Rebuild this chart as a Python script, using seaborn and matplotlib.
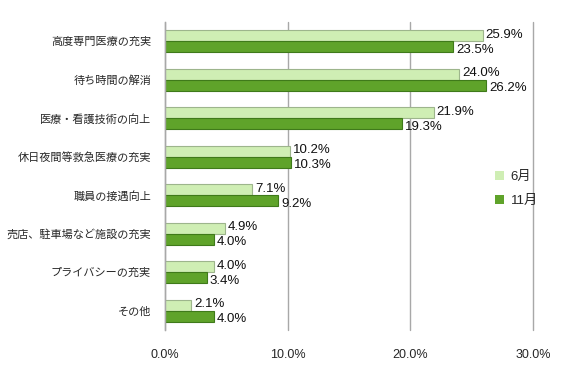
import matplotlib
matplotlib.use("Agg")
import matplotlib.pyplot as plt
import seaborn as sns
import pandas as pd
from matplotlib.patches import Patch

categories = ["高度専門医療の充実", "待ち時間の解消", "医療・看護技術の向上", "休日夜間等救急医療の充実",
              "職員の接遇向上", "売店、駐車場など施設の充実", "プライバシーの充実", "その他"]
june = [25.9, 24.0, 21.9, 10.2, 7.1, 4.9, 4.0, 2.1]
nov = [23.5, 26.2, 19.3, 10.3, 9.2, 4.0, 3.4, 4.0]
series = ["6月", "11月"]
xticks = [0, 10, 20, 30]

sns.set_theme(style="white")
plt.rcParams['font.family'] = ['Liberation Sans', 'Noto Sans CJK JP', 'DejaVu Sans']

df = pd.DataFrame({
    "cat": categories * 2,
    "val": june + nov,
    "series": [series[0]] * len(categories) + [series[1]] * len(categories),
})

colors = {"6月": "#CFEEB4", "11月": "#5FA32A"}
edges = {"6月": "#9DB58C", "11月": "#3F7A1A"}
label_shift = {"6月": -0.03, "11月": 0.08}

fig = plt.figure(figsize=(5.72, 3.82), dpi=100)
ax = fig.add_axes([165/572, 1-330/382, (533-165)/572, (330-22)/382])

sns.barplot(data=df, y="cat", x="val", hue="series", order=categories, hue_order=series,
            palette=colors, orient="h", width=0.58, ax=ax, legend=False, saturation=1)

for cont, s in zip(ax.containers, series):
    for bar in cont:
        bar.set_edgecolor(edges[s])
        bar.set_linewidth(0.8)
    labels = [f"{v:.1f}%" for v in cont.datavalues]
    for bar, lab in zip(cont, labels):
        y = bar.get_y() + bar.get_height() / 2
        ax.text(bar.get_width() + 0.25, y + label_shift[s], lab, va="center", ha="left",
                fontsize=9.5, color="#111111")

ax.set_xlim(0, 30)
ax.set_ylim(len(categories) - 0.5, -0.5)
ax.set_xticks(xticks)
ax.set_xticklabels([f"{t:.1f}%" for t in xticks], fontsize=9)
ax.set_xlabel("")
ax.set_ylabel("")
ax.tick_params(axis="y", labelsize=8, length=0, pad=10)
ax.tick_params(axis="x", length=0, pad=14)
ax.grid(axis="x", color="#A8A8A8", linewidth=1)
for gl in ax.get_xgridlines():
    gl.set_clip_on(False)
ax.set_axisbelow(True)
for sp in ["top", "right", "bottom"]:
    ax.spines[sp].set_visible(False)
ax.spines["left"].set_color("#A8A8A8")
ax.spines["left"].set_linewidth(1)

handles = [Patch(facecolor=colors[s], edgecolor="none") for s in series]
fig.legend(handles, series, loc="center left", bbox_to_anchor=(483/572, 1-189/382),
           frameon=False, fontsize=9.5, handlelength=0.7, handleheight=0.7,
           handletextpad=0.5, labelspacing=0.9)

fig.savefig("out.png", dpi=100)
